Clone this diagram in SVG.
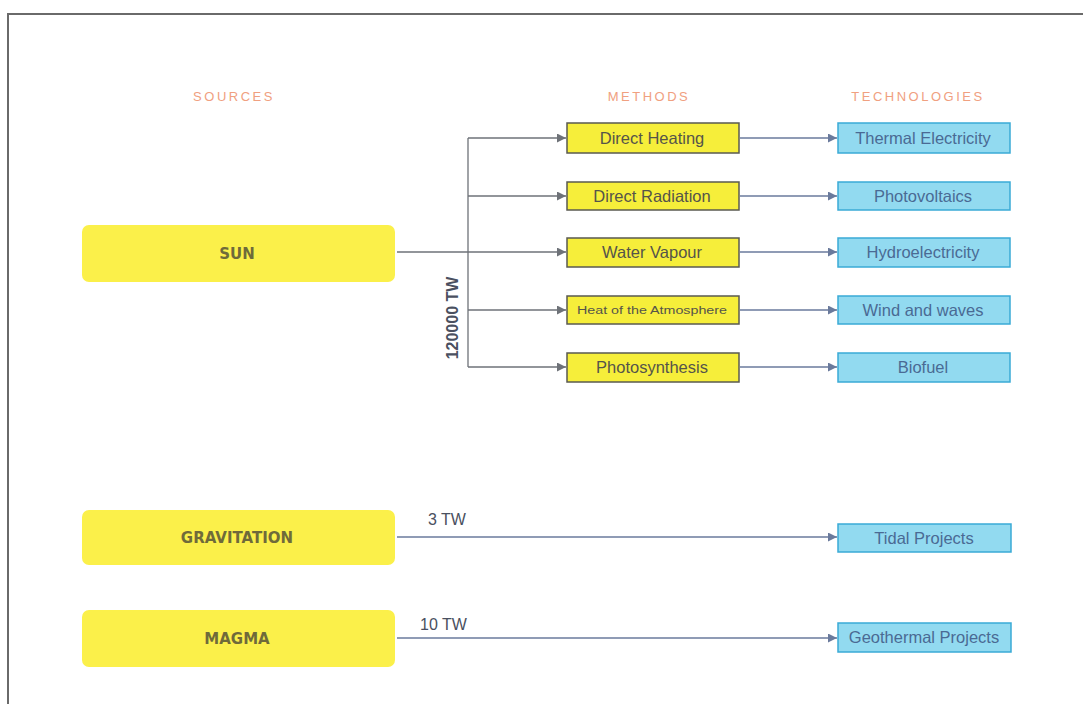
<svg xmlns="http://www.w3.org/2000/svg" width="1083" height="704" viewBox="0 0 1083 704">
<defs>
<style>
.hdr{font-family:"Liberation Sans",Arial,sans-serif;font-size:13px;fill:#f0a080;text-anchor:middle;letter-spacing:2.5px}
.src rect{fill:#fbf04a}
.src text{font-family:"DejaVu Sans",sans-serif;font-weight:bold;font-size:15px;fill:#6f6a3a;text-anchor:middle}
.m rect{fill:#f6ee3a;stroke:#5a5a50;stroke-width:1.5}
.m text{font-family:"Liberation Sans",Arial,sans-serif;font-size:16.5px;fill:#55544a;text-anchor:middle}
.t rect{fill:#92daf0;stroke:#3aaad6;stroke-width:1.5}
.t text{font-family:"Liberation Sans",Arial,sans-serif;font-size:16.5px;fill:#4a6a94;text-anchor:middle}
.c1{fill:none;stroke:#6e7278;stroke-width:1.3}
.c2{fill:none;stroke:#6a7a9c;stroke-width:1.3}
.lbl{font-family:"Liberation Sans",Arial,sans-serif;font-size:16px;fill:#4a5060}
</style>
<marker id="a1" viewBox="0 0 10 10" refX="10" refY="5" markerWidth="10" markerHeight="9" orient="auto" markerUnits="userSpaceOnUse"><path d="M0,0 L10,5 L0,10 z" fill="#6e7278"/></marker>
<marker id="a2" viewBox="0 0 10 10" refX="10" refY="5" markerWidth="10" markerHeight="9" orient="auto" markerUnits="userSpaceOnUse"><path d="M0,0 L10,5 L0,10 z" fill="#6a7a9c"/></marker>
</defs>
<rect width="1083" height="704" fill="#ffffff"/>
<path d="M8,704 L8,14 L1083,14" fill="none" stroke="#6a6a6a" stroke-width="2"/>
<text class="hdr" x="234" y="101">SOURCES</text>
<text class="hdr" x="649" y="101">METHODS</text>
<text class="hdr" x="918" y="101">TECHNOLOGIES</text>
<g id="connectors">
<path class="c1" d="M397,252 L468,252"/>
<path class="c1" d="M468,138 L468,367"/>
<path class="c1" d="M468,138 L566,138" marker-end="url(#a1)"/>
<path class="c1" d="M468,196 L566,196" marker-end="url(#a1)"/>
<path class="c1" d="M468,252 L566,252" marker-end="url(#a1)"/>
<path class="c1" d="M468,310 L566,310" marker-end="url(#a1)"/>
<path class="c1" d="M468,367 L566,367" marker-end="url(#a1)"/>
<path class="c2" d="M740,138 L837,138" marker-end="url(#a2)"/>
<path class="c2" d="M740,196 L837,196" marker-end="url(#a2)"/>
<path class="c2" d="M740,252 L837,252" marker-end="url(#a2)"/>
<path class="c2" d="M740,310 L837,310" marker-end="url(#a2)"/>
<path class="c2" d="M740,367 L837,367" marker-end="url(#a2)"/>
<path class="c2" d="M397,537 L837,537" marker-end="url(#a2)"/>
<path class="c2" d="M397,638 L837,638" marker-end="url(#a2)"/>
<text class="lbl" font-weight="bold" font-size="16" transform="translate(458,318) rotate(-90)" text-anchor="middle">120000 TW</text>
<text class="lbl" x="428" y="525">3 TW</text>
<text class="lbl" x="420" y="630">10 TW</text>
</g>
<g id="sun" class="src"><rect x="82" y="225" width="313" height="57" rx="7"/><text x="237" y="259">SUN</text></g>
<g id="gravitation" class="src"><rect x="82" y="510" width="313" height="55" rx="7"/><text x="237" y="543">GRAVITATION</text></g>
<g id="magma" class="src"><rect x="82" y="610" width="313" height="57" rx="7"/><text x="237" y="644">MAGMA</text></g>
<g id="m1" class="m"><rect x="567" y="123" width="172" height="30"/><text x="652" y="144">Direct Heating</text></g>
<g id="m2" class="m"><rect x="567" y="182" width="172" height="28"/><text x="652" y="202">Direct Radiation</text></g>
<g id="m3" class="m"><rect x="567" y="238" width="172" height="29"/><text x="652" y="258">Water Vapour</text></g>
<g id="m4" class="m"><rect x="567" y="296" width="172" height="28"/><text x="652" y="314" style="font-size:10px" textLength="150" lengthAdjust="spacingAndGlyphs">Heat of the Atmosphere</text></g>
<g id="m5" class="m"><rect x="567" y="353" width="172" height="29"/><text x="652" y="373">Photosynthesis</text></g>
<g id="t1" class="t"><rect x="838" y="123" width="172" height="30"/><text x="923" y="144">Thermal Electricity</text></g>
<g id="t2" class="t"><rect x="838" y="182" width="172" height="28"/><text x="923" y="202">Photovoltaics</text></g>
<g id="t3" class="t"><rect x="838" y="238" width="172" height="29"/><text x="923" y="258">Hydroelectricity</text></g>
<g id="t4" class="t"><rect x="838" y="296" width="172" height="28"/><text x="923" y="316">Wind and waves</text></g>
<g id="t5" class="t"><rect x="838" y="353" width="172" height="29"/><text x="923" y="373">Biofuel</text></g>
<g id="t6" class="t"><rect x="838" y="524" width="173" height="28"/><text x="924" y="544">Tidal Projects</text></g>
<g id="t7" class="t"><rect x="838" y="623" width="173" height="29"/><text x="924" y="643">Geothermal Projects</text></g>
</svg>
